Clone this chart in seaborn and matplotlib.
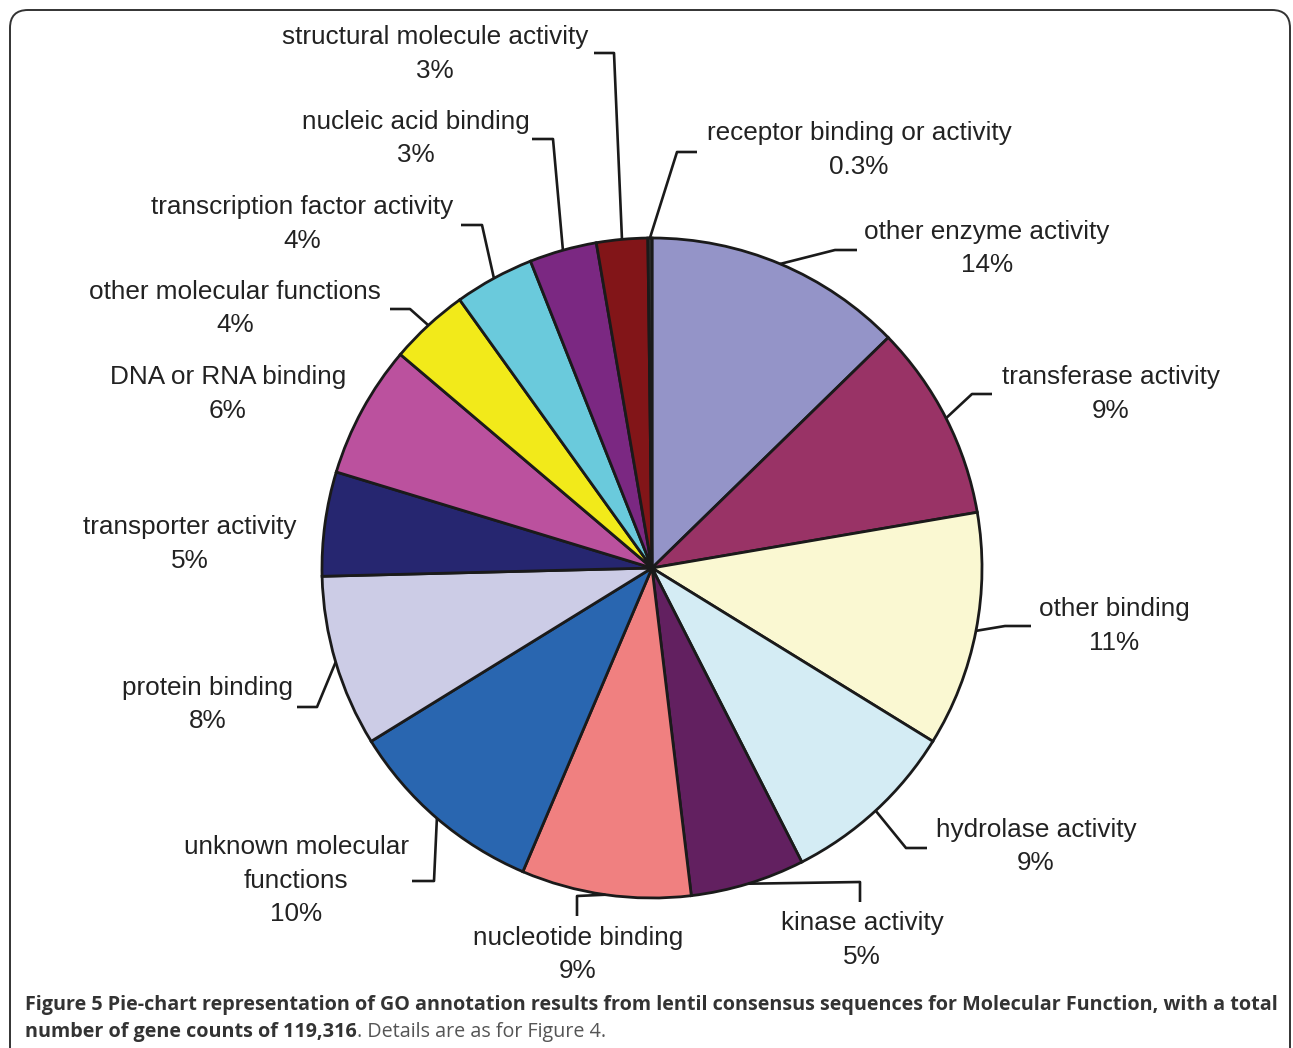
import numpy as np
import matplotlib.pyplot as plt
import matplotlib.patches as mpatches
import seaborn as sns

# GO molecular function categories, clockwise from 12 o'clock
categories = ["other enzyme activity", "transferase activity", "other binding",
              "hydrolase activity", "kinase activity", "nucleotide binding",
              "unknown molecular\nfunctions", "protein binding", "transporter activity",
              "DNA or RNA binding", "other molecular functions",
              "transcription factor activity", "nucleic acid binding",
              "structural molecule activity", "receptor binding or activity"]
# slice sizes as drawn
shares = [12.7, 9.6, 11.5, 8.7, 5.6, 8.3, 9.8, 8.4, 5.1, 6.5, 3.9, 3.9, 3.3, 2.5, 0.2]
# percentages as printed on the chart
pct_labels = ["14%", "9%", "11%", "9%", "5%", "9%", "10%", "8%", "5%", "6%",
              "4%", "4%", "3%", "3%", "0.3%"]

colors = ["#9494c8", "#993366", "#faf8d2", "#d4ecf4", "#622060", "#f08080",
          "#2966b0", "#cccce6", "#262670", "#bb519e", "#f2ea1a", "#6acadc",
          "#7b2882", "#821518", "#333333"]

W, H = 1293, 1048
cx, cy, R = 652, 568, 330

# label layout in image pixels: text centre x, first line y, elbow, end of leader
layout = [
    (987, 232, (835, 250), (857, 250)),
    (1111, 377, (972, 394), (992, 394)),
    (1114, 609, (1005, 626), (1031, 626)),
    (1036, 830, (906, 848), (927, 848)),
    (862, 923, (860, 882), (860, 902)),
    (578, 938, (577, 896), (577, 916)),
    (296, 847, (434, 881), (412, 881)),
    (208, 688, (317, 707), (297, 707)),
    (190, 527, None, None),
    (228, 377, None, None),
    (235, 292, (410, 309), (390, 309)),
    (302, 207, (482, 225), (461, 225)),
    (416, 122, (553, 139), (532, 139)),
    (435, 37, (614, 53), (594, 53)),
    (859, 133, (677, 152), (697, 152)),
]

sns.set_style("white")
plt.rcParams['font.family'] = ['Liberation Sans', 'DejaVu Sans']

fig = plt.figure(figsize=(W / 100, H / 100), dpi=100)
ax = fig.add_axes([0, 0, 1, 1])

def Y(y):
    return H - y

wedges, _ = ax.pie(shares, colors=colors, startangle=90, counterclock=False,
                   center=(cx, Y(cy)), radius=R,
                   wedgeprops=dict(edgecolor="#1a1a1a", linewidth=2.0))
ax.set_xlim(0, W)
ax.set_ylim(0, H)
ax.set_aspect("equal")
ax.axis("off")

txt_color = "#222222"
line_h = 33.5
for w, name, pct, (tx, ty, elbow, end) in zip(wedges, categories, pct_labels, layout):
    lines = name.split("\n") + [pct]
    for i, s in enumerate(lines):
        ax.text(tx, Y(ty + i * line_h), s, ha="center", va="center",
                fontsize=18.8, color=txt_color)
    if elbow is not None:
        mid = np.deg2rad((w.theta1 + w.theta2) / 2)
        sx = cx + R * np.cos(mid)
        sy = Y(cy) + R * np.sin(mid)
        ax.plot([sx, elbow[0], end[0]], [sy, Y(elbow[1]), Y(end[1])],
                color="#1a1a1a", lw=1.9, solid_capstyle="butt")

# rounded frame, bottom edge runs off the image
frame = mpatches.FancyBboxPatch((10, -30), 1280, Y(10) + 30,
                                boxstyle="round,pad=0,rounding_size=18",
                                fc="none", ec="#333333", lw=1.4, clip_on=False)
ax.add_patch(frame)

# caption
cap_font = ['Open Sans', 'DejaVu Sans']
cap_size = 14.2
ax.text(25, Y(1005), "Figure 5 Pie-chart representation of GO annotation results from lentil "
        "consensus sequences for Molecular Function, with a total",
        ha="left", va="center", fontsize=cap_size, fontweight="bold", family=cap_font,
        color="#333333")
t2 = ax.text(25, Y(1032), "number of gene counts of 119,316", ha="left", va="center",
             fontsize=cap_size, fontweight="bold", family=cap_font, color="#333333")
fig.canvas.draw()
bb = t2.get_window_extent(renderer=fig.canvas.get_renderer())
x_end = ax.transData.inverted().transform((bb.x1, bb.y0))[0]
ax.text(x_end, Y(1032), ". Details are as for Figure 4.", ha="left", va="center",
        fontsize=cap_size, family=cap_font, color="#555555")

fig.savefig("out.png", dpi=100)
